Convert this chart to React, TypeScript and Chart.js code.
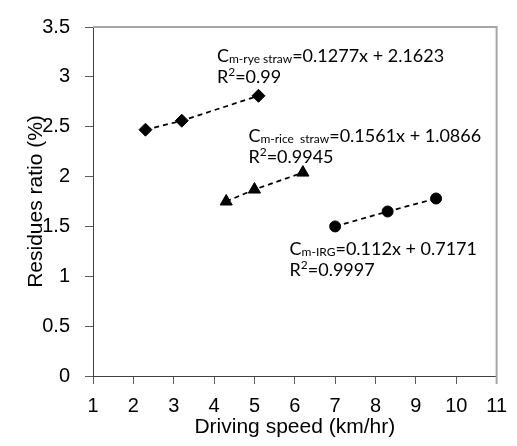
import React, { useEffect, useRef } from "react";
import { Chart, registerables } from "chart.js";

Chart.register(...registerables);

// ---- data ----
const ryeX = [2.3, 3.2, 5.1];
const ryeY = [2.47, 2.56, 2.81];
const riceX = [4.3, 5.0, 6.2];
const riceY = [1.75, 1.87, 2.04];
const irgX = [7.0, 8.3, 9.5];
const irgY = [1.5, 1.65, 1.78];

const xMin = 1;
const xMax = 11;
const yMin = 0;
const yMax = 3.5;

const eqSub = ["m-rye straw", "m-rice  straw", "m-IRG"];
const eqRest = ["=0.1277x + 2.1623", "=0.1561x + 1.0866", "=0.112x + 0.7171"];
const r2Text = ["0.99", "0.9945", "0.9997"];

// label anchors (data coordinates of the first baseline)
const labelAnchors = [
  { x: 4.07, y: 3.146 },
  { x: 4.85, y: 2.35 },
  { x: 5.87, y: 1.21 },
];

const ANN_FONT = "Lato, 'Noto Sans', sans-serif";
const AXIS_FONT = "'Liberation Sans', Arial, sans-serif";

const eqPlugin = {
  id: "eqLabels",
  afterDatasetsDraw(chart: any) {
    const { ctx, scales } = chart;
    const xs = scales.x;
    const ys = scales.y;
    ctx.save();
    ctx.fillStyle = "#000";
    ctx.textAlign = "left";
    ctx.textBaseline = "alphabetic";
    labelAnchors.forEach((a, i) => {
      const x0 = xs.getPixelForValue(a.x);
      const y0 = ys.getPixelForValue(a.y);
      let px = x0;
      ctx.font = `18px ${ANN_FONT}`;
      ctx.fillText("C", px, y0);
      px += ctx.measureText("C").width;
      ctx.font = `12px ${ANN_FONT}`;
      ctx.fillText(eqSub[i], px, y0 + 1);
      px += ctx.measureText(eqSub[i]).width;
      ctx.font = `18px ${ANN_FONT}`;
      ctx.fillText(eqRest[i], px, y0);

      const y1 = y0 + 21;
      let rx = x0;
      ctx.font = `18px ${ANN_FONT}`;
      ctx.fillText("R", rx, y1);
      rx += ctx.measureText("R").width;
      ctx.font = `12px ${ANN_FONT}`;
      ctx.fillText("2", rx, y1 - 7);
      rx += ctx.measureText("2").width;
      ctx.font = `18px ${ANN_FONT}`;
      ctx.fillText("=" + r2Text[i], rx, y1);
    });
    ctx.restore();
  },
};

const framePlugin = {
  id: "frame",
  afterDraw(chart: any) {
    const { ctx, chartArea } = chart;
    ctx.save();
    ctx.strokeStyle = "#a6a6a6";
    ctx.lineWidth = 2;
    ctx.beginPath();
    ctx.moveTo(chartArea.left, chartArea.top);
    ctx.lineTo(chartArea.right, chartArea.top);
    ctx.lineTo(chartArea.right, chartArea.bottom + 8);
    ctx.stroke();
    ctx.restore();
  },
};

function toPts(xv: number[], yv: number[]) {
  return xv.map((x, i) => ({ x, y: yv[i] }));
}

export default function App() {
  const ref = useRef<HTMLCanvasElement>(null);

  useEffect(() => {
    if (!ref.current) return;
    const common = {
      showLine: true,
      borderColor: "#000",
      backgroundColor: "#000",
      borderWidth: 1.75,
      borderDash: [5, 4],
      pointBorderColor: "#000",
      pointBackgroundColor: "#000",
      pointBorderWidth: 1,
    };
    const chart = new Chart(ref.current, {
      type: "scatter",
      data: {
        datasets: [
          { ...common, label: "rye straw", data: toPts(ryeX, ryeY), pointStyle: "rectRot", pointRadius: 6.5 },
          { ...common, label: "rice straw", data: toPts(riceX, riceY), pointStyle: "triangle", pointRadius: 7 },
          { ...common, label: "IRG", data: toPts(irgX, irgY), pointStyle: "circle", pointRadius: 5.5 },
        ],
      },
      options: {
        responsive: false,
        animation: false,
        devicePixelRatio: 1,
        layout: { padding: { top: 20, right: 11, left: 0, bottom: 0 } },
        plugins: {
          legend: { display: false },
          tooltip: { enabled: false },
        },
        scales: {
          x: {
            type: "linear",
            min: xMin,
            max: xMax,
            afterFit: (s: any) => {
              s.height = 70;
            },
            ticks: {
              stepSize: 1,
              color: "#000",
              font: { family: AXIS_FONT, size: 20 },
              padding: 10,
              maxRotation: 0,
              callback: (v: any) => String(Number(v)),
            },
            grid: {
              drawOnChartArea: false,
              drawTicks: true,
              tickLength: 8,
              color: "#595959",
              lineWidth: 1,
            },
            border: { display: true, color: "#404040", width: 1 },
            title: {
              display: true,
              text: "Driving speed (km/hr)",
              color: "#000",
              font: { family: AXIS_FONT, size: 21 },
              padding: { top: 0, bottom: 6 },
            },
          },
          y: {
            type: "linear",
            min: yMin,
            max: yMax,
            afterFit: (s: any) => {
              s.width = 93;
            },
            ticks: {
              stepSize: 0.5,
              color: "#000",
              font: { family: AXIS_FONT, size: 20 },
              padding: 15,
              callback: (v: any) => String(Number(v)),
            },
            grid: {
              drawOnChartArea: false,
              drawTicks: true,
              tickLength: 8,
              color: "#595959",
              lineWidth: 1,
            },
            border: { display: true, color: "#404040", width: 1 },
            title: {
              display: true,
              text: "Residues ratio (%)",
              color: "#000",
              font: { family: AXIS_FONT, size: 21 },
              padding: { top: 24, bottom: 0 },
            },
          },
        },
      },
      plugins: [eqPlugin, framePlugin],
    } as any);
    return () => chart.destroy();
  }, []);

  return (
    <div style={{ position: "absolute", left: 0, top: 0, width: 517, height: 446 }}>
      <canvas ref={ref} width={517} height={446} style={{ display: "block" }} />
    </div>
  );
}
